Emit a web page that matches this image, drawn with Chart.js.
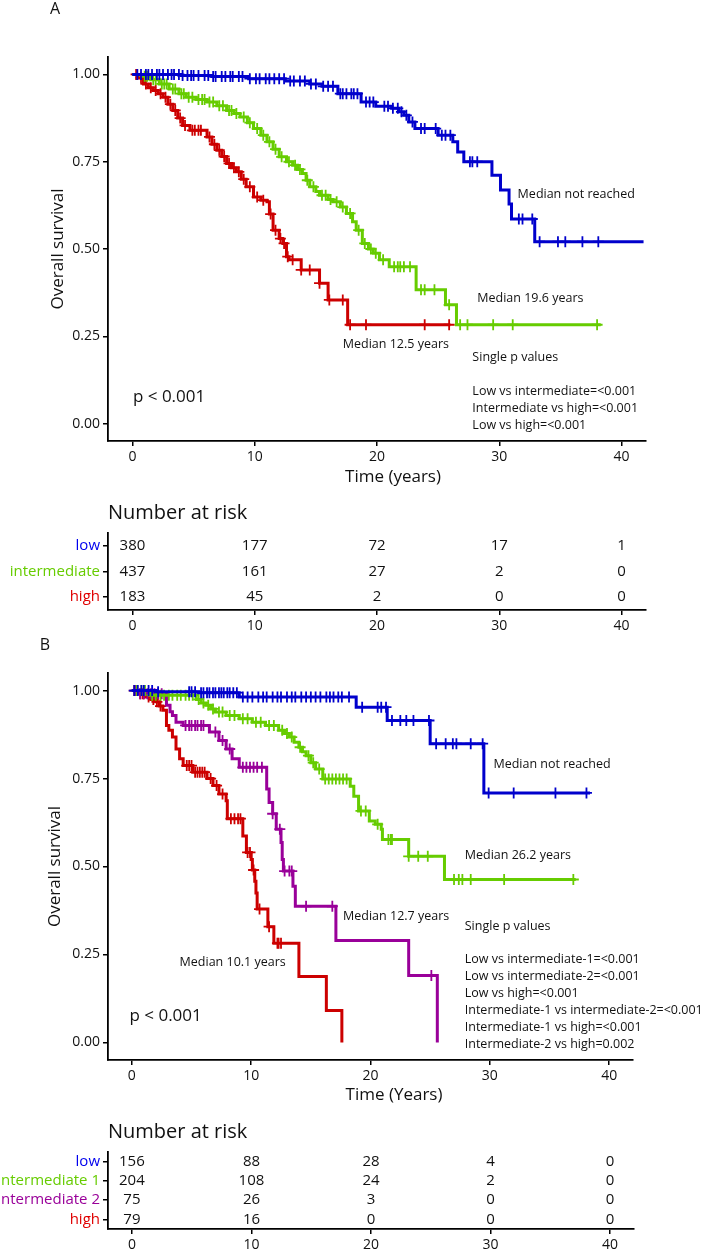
<!DOCTYPE html>
<html>
<head>
<meta charset="utf-8">
<script src="https://cdn.jsdelivr.net/npm/chart.js@4.4.1/dist/chart.umd.min.js"></script>
<style>
  html, body { margin: 0; padding: 0; background: #fff; }
  #wrap { position: relative; width: 708px; height: 1249px; overflow: hidden; }
  canvas { position: absolute; left: 0; }
</style>
</head>
<body>
<div id="wrap">
  <canvas id="kmA" width="708" height="495" style="top:0px"></canvas>
  <canvas id="riskA" width="708" height="140" style="top:495px"></canvas>
  <canvas id="kmB" width="708" height="495" style="top:615px"></canvas>
  <canvas id="riskB" width="708" height="139" style="top:1110px"></canvas>
</div>
<script>
const FONT = "'Open Sans', sans-serif";
const INK = '#111';

const xTicks = [0, 10, 20, 30, 40];
const yTicks = [0, 0.25, 0.5, 0.75, 1];
const yTickLabels = ['0.00', '0.25', '0.50', '0.75', '1.00'];

// ---- Panel A: step times (years) and survival after each step, plus censor times
const lowA_t = [0, 4.0, 6.5, 9.5, 12.5, 14.5, 15.5, 16.8, 18.7, 19.9, 21.2, 21.8, 22.2, 22.6, 23.1, 25.0, 26.2, 26.6, 27.1, 29.4, 30.1, 30.8, 31.0, 32.9, 41.8];
const lowA_s = [1, 0.997, 0.994, 0.988, 0.981, 0.973, 0.966, 0.945, 0.921, 0.909, 0.903, 0.893, 0.883, 0.864, 0.845, 0.826, 0.807, 0.778, 0.750, 0.711, 0.669, 0.629, 0.586, 0.521, 0.521];
const lowA_cens = [0.4, 0.7, 1.1, 1.3, 1.6, 2.0, 2.2, 2.5, 2.9, 3.2, 3.4, 3.8, 4.1, 4.5, 4.8, 5.0, 5.4, 5.9, 6.2, 6.6, 6.8, 7.3, 7.6, 8.0, 8.2, 8.7, 9.0, 9.6, 10.1, 10.4, 10.9, 11.2, 11.6, 12.0, 12.4, 12.9, 13.2, 13.7, 14.1, 14.6, 15.0, 15.6, 16.0, 16.4, 17.0, 17.2, 17.5, 17.9, 18.1, 18.4, 19.1, 19.4, 19.7, 20.6, 20.9, 21.3, 21.7, 22.0, 22.4, 22.9, 23.6, 23.9, 24.8, 25.3, 25.6, 26.0, 27.6, 27.8, 28.2, 31.6, 31.9, 32.7, 33.3, 34.8, 35.4, 36.8, 38.1];

const intA_t = [0, 0.8, 1.5, 2.2, 3.0, 3.8, 4.4, 5.2, 6.1, 6.9, 7.7, 8.3, 8.8, 9.4, 9.9, 10.5, 11.0, 11.5, 12.0, 12.6, 13.1, 13.5, 13.9, 14.2, 14.5, 15.0, 15.3, 16.0, 16.4, 17.0, 17.5, 18.0, 18.3, 18.8, 19.3, 19.7, 20.2, 21.0, 23.2, 25.6, 26.5, 38.3];
const intA_s = [1, 0.995, 0.985, 0.973, 0.958, 0.945, 0.935, 0.928, 0.921, 0.910, 0.897, 0.888, 0.878, 0.862, 0.845, 0.826, 0.807, 0.786, 0.764, 0.750, 0.740, 0.728, 0.716, 0.697, 0.678, 0.665, 0.654, 0.642, 0.635, 0.620, 0.602, 0.578, 0.554, 0.516, 0.500, 0.488, 0.469, 0.449, 0.383, 0.340, 0.283, 0.283];
const intA_cens = [1.0, 1.2, 1.7, 1.9, 2.4, 2.6, 2.8, 3.3, 3.5, 4.0, 4.2, 4.6, 4.9, 5.4, 5.7, 5.9, 6.3, 6.6, 7.1, 7.4, 7.9, 8.1, 8.5, 9.1, 9.6, 10.2, 10.7, 11.2, 11.7, 12.2, 12.8, 13.3, 13.7, 14.3, 14.8, 15.5, 15.8, 16.2, 16.7, 17.2, 17.8, 18.5, 19.0, 19.5, 19.9, 20.5, 21.4, 21.7, 21.9, 22.2, 22.7, 23.6, 23.9, 24.7, 25.9, 26.8, 27.4, 29.5, 31.1, 38.0];

const highA_t = [0, 0.5, 0.9, 1.3, 1.7, 2.1, 2.5, 2.9, 3.3, 3.7, 4.1, 4.7, 6.1, 6.5, 6.9, 7.3, 7.7, 8.1, 8.5, 8.9, 9.3, 9.9, 10.5, 11.0, 11.2, 11.5, 12.0, 12.3, 12.6, 12.8, 13.8, 15.3, 16.0, 17.6, 26.0];
const highA_s = [1, 0.990, 0.973, 0.962, 0.954, 0.945, 0.935, 0.915, 0.897, 0.875, 0.854, 0.840, 0.821, 0.800, 0.783, 0.765, 0.745, 0.733, 0.721, 0.700, 0.678, 0.649, 0.640, 0.635, 0.600, 0.554, 0.530, 0.516, 0.478, 0.469, 0.440, 0.402, 0.354, 0.283, 0.283];
const highA_cens = [0.3, 0.7, 1.1, 1.5, 1.9, 2.3, 2.7, 3.1, 3.5, 3.9, 4.3, 4.9, 5.1, 5.4, 5.6, 6.3, 6.7, 7.1, 7.5, 7.9, 8.3, 8.7, 9.1, 9.6, 10.2, 10.7, 11.3, 11.7, 12.1, 12.4, 12.7, 13.1, 13.8, 14.5, 15.3, 16.1, 17.2, 17.8, 19.1, 23.9, 25.9];

// ---- Panel B
const lowB_t = [0, 2.0, 5.6, 9.0, 18.8, 21.4, 25.0, 29.5, 38.4];
const lowB_s = [1, 0.997, 0.994, 0.982, 0.953, 0.915, 0.849, 0.709, 0.709];
const lowB_cens = [0.2, 0.5, 0.8, 1.0, 1.4, 1.7, 2.2, 4.8, 5.0, 5.3, 5.8, 6.0, 6.3, 6.5, 6.8, 7.0, 7.3, 7.5, 7.7, 8.0, 8.2, 8.5, 8.8, 9.3, 9.7, 10.1, 10.6, 11.0, 11.3, 11.8, 12.2, 12.5, 13.0, 13.4, 13.7, 14.2, 14.6, 15.0, 15.4, 15.8, 16.3, 16.6, 16.9, 17.3, 17.6, 18.2, 19.3, 20.6, 20.9, 21.3, 21.8, 22.5, 23.0, 23.6, 24.9, 25.5, 26.3, 26.9, 27.2, 28.4, 29.4, 29.9, 32.0, 35.5, 38.1];

const int1B_t = [0, 1.5, 5.4, 5.8, 6.2, 6.6, 7.0, 7.9, 9.0, 10.1, 11.2, 12.3, 12.8, 13.2, 13.6, 14.0, 14.3, 14.6, 15.0, 15.4, 16.0, 18.3, 18.6, 19.0, 19.9, 20.4, 20.9, 21.0, 23.2, 26.2, 37.2];
const int1B_s = [1, 0.987, 0.975, 0.965, 0.958, 0.948, 0.939, 0.929, 0.920, 0.910, 0.901, 0.887, 0.878, 0.868, 0.853, 0.839, 0.826, 0.815, 0.795, 0.777, 0.749, 0.728, 0.700, 0.658, 0.629, 0.620, 0.606, 0.577, 0.529, 0.463, 0.463];
const int1B_cens = [0.4, 0.8, 1.1, 1.7, 2.0, 2.4, 2.7, 3.1, 3.4, 3.8, 4.1, 4.5, 4.8, 5.1, 5.6, 6.0, 6.4, 6.8, 7.3, 7.6, 8.2, 8.6, 9.3, 9.7, 10.4, 10.8, 11.5, 11.9, 12.6, 13.0, 13.4, 14.1, 14.8, 15.2, 15.7, 16.2, 16.5, 16.8, 17.1, 17.4, 17.7, 18.0, 19.2, 19.6, 20.6, 21.5, 21.7, 21.8, 23.2, 24.0, 24.8, 27.0, 27.4, 27.7, 28.4, 31.2, 37.0];

const int2B_t = [0, 0.6, 2.9, 3.2, 3.4, 3.7, 4.3, 6.5, 7.3, 7.9, 8.4, 9.0, 11.3, 11.5, 11.8, 12.1, 12.5, 12.6, 12.7, 13.5, 13.7, 17.1, 23.2, 25.6];
const int2B_s = [1, 0.991, 0.958, 0.940, 0.929, 0.910, 0.901, 0.882, 0.858, 0.834, 0.806, 0.782, 0.720, 0.682, 0.650, 0.606, 0.568, 0.520, 0.487, 0.444, 0.387, 0.290, 0.190, 0];
const int2B_cens = [0.3, 0.7, 1.0, 1.3, 1.6, 1.9, 2.2, 2.5, 4.5, 4.8, 5.0, 5.3, 5.5, 5.8, 6.0, 7.0, 7.6, 8.2, 9.3, 9.6, 9.9, 10.2, 10.5, 10.9, 11.8, 12.4, 12.8, 13.2, 13.4, 14.6, 16.8, 25.1];

const highB_t = [0, 0.5, 1.2, 1.6, 2.0, 2.3, 2.6, 2.9, 3.1, 3.4, 3.7, 4.0, 4.3, 5.1, 6.3, 6.8, 7.3, 7.9, 8.0, 9.3, 9.6, 10.0, 10.1, 10.3, 10.4, 10.5, 11.4, 11.9, 14.0, 16.3, 17.6];
const highB_s = [1, 0.991, 0.982, 0.975, 0.968, 0.956, 0.944, 0.901, 0.887, 0.868, 0.834, 0.806, 0.787, 0.768, 0.750, 0.730, 0.706, 0.687, 0.636, 0.587, 0.540, 0.520, 0.490, 0.458, 0.425, 0.379, 0.329, 0.282, 0.187, 0.091, 0];
const highB_cens = [0.2, 0.4, 0.7, 0.9, 1.0, 1.4, 1.8, 2.1, 2.4, 4.6, 4.8, 5.0, 5.3, 5.5, 5.7, 5.9, 6.1, 6.6, 7.1, 7.6, 8.3, 8.6, 8.9, 9.1, 9.7, 9.9, 10.2, 10.7, 11.5, 12.2, 12.3, 12.5];

// ---- Number at risk tables
const riskTimes = [0, 10, 20, 30, 40];
const riskA_labels = ['low', 'intermediate', 'high'];
const riskA_low = [380, 177, 72, 17, 1];
const riskA_int = [437, 161, 27, 2, 0];
const riskA_high = [183, 45, 2, 0, 0];
const riskB_labels = ['low', 'intermediate 1', 'intermediate 2', 'high'];
const riskB_low = [156, 88, 28, 4, 0];
const riskB_int1 = [204, 108, 24, 2, 0];
const riskB_int2 = [75, 26, 3, 0, 0];
const riskB_high = [79, 16, 0, 0, 0];

const pValuesA = ['Low vs intermediate=<0.001', 'Intermediate vs high=<0.001', 'Low vs high=<0.001'];
const pValuesB = ['Low vs intermediate-1=<0.001', 'Low vs intermediate-2=<0.001', 'Low vs high=<0.001',
  'Intermediate-1 vs intermediate-2=<0.001', 'Intermediate-1 vs high=<0.001', 'Intermediate-2 vs high=0.002'];

const BLUE = '#0000cc', GREEN = '#66cc00', RED = '#cc0000', PURPLE = '#990099';

Chart.defaults.font.family = FONT;
Chart.defaults.color = INK;

// survival level at time t (step function)
function survAt(ts, ss, t) {
  let v = ss[0];
  for (let i = 0; i < ts.length; i++) {
    if (ts[i] <= t) v = ss[i];
  }
  return v;
}

function notesPlugin(notes) {
  return {
    id: 'notes',
    afterDraw(chart) {
      const ctx = chart.ctx;
      const xs = chart.scales.x, ys = chart.scales.y;
      ctx.save();
      ctx.textBaseline = 'middle';
      ctx.fillStyle = INK;
      notes.forEach(n => {
        ctx.font = (n.size || 12.5) + 'px ' + FONT;
        ctx.textAlign = n.align || 'left';
        const px = n.px !== undefined ? n.px : xs.getPixelForValue(n.t);
        const py = n.py !== undefined ? n.py : ys.getPixelForValue(n.s) + (n.dy || 0);
        ctx.fillText(n.text, px, py);
      });
      ctx.restore();
    }
  };
}

function axisX(h) {
  return {
    type: 'linear', min: -2, max: 42,
    afterBuildTicks: s => { s.ticks = xTicks.map(v => ({ value: v })); },
    afterFit: s => { s.height = h; },
    ticks: { font: { size: 14 }, color: INK, padding: 3, maxRotation: 0, autoSkip: false },
    grid: { drawOnChartArea: false, tickLength: 5, color: '#000', lineWidth: 1.5 },
    border: { color: '#000', width: 1.8 }
  };
}

function kmChart(id, curves, o) {
  const datasets = [];
  curves.forEach(c => {
    datasets.push({
      data: c.t.map((t, i) => ({ x: t, y: c.s[i] })),
      borderColor: c.color, borderWidth: 3, stepped: true,
      pointRadius: 0, fill: false
    });
    datasets.push({
      data: c.cens.map(t => ({ x: t, y: survAt(c.t, c.s, t) })),
      showLine: false, pointStyle: 'cross', pointRadius: 5.5,
      borderColor: c.color, pointBorderWidth: 1.8
    });
  });
  return new Chart(document.getElementById(id), {
    type: 'line',
    data: { datasets },
    options: {
      responsive: false, animation: false, events: [],
      layout: { padding: o.padding },
      plugins: { legend: { display: false }, tooltip: { enabled: false } },
      scales: {
        x: axisX(o.xh),
        y: {
          type: 'linear', min: -0.05, max: 1.05,
          afterBuildTicks: s => { s.ticks = yTicks.map(v => ({ value: v })); },
          afterFit: s => { s.width = o.yw; },
          ticks: { font: { size: 14 }, color: INK, padding: 3, callback: v => yTickLabels[yTicks.indexOf(v)] },
          grid: { drawOnChartArea: false, tickLength: 5, color: '#000', lineWidth: 1.5 },
          border: { color: '#000', width: 1.8 },
          title: { display: true, text: 'Overall survival', font: { size: 17 }, color: INK, padding: { top: o.titlePad, bottom: 0 } }
        }
      }
    },
    plugins: [notesPlugin(o.notes)]
  });
}

function riskChart(id, labels, rows, colors, o) {
  const datasets = rows.map((n, r) => ({
    data: riskTimes.map((t, i) => ({ x: t, y: labels[r], n: n[i] })),
    pointRadius: 0, showLine: false
  }));
  return new Chart(document.getElementById(id), {
    type: 'line',
    data: { datasets },
    options: {
      responsive: false, animation: false, events: [],
      layout: { padding: { left: 0, right: o.right, top: 0, bottom: 0 } },
      plugins: {
        legend: { display: false }, tooltip: { enabled: false },
        title: {
          display: true, text: 'Number at risk', align: 'start', fullSize: false,
          font: { size: 20, weight: 'normal' }, color: INK, padding: o.titlePad
        }
      },
      scales: {
        x: axisX(o.xh),
        y: {
          type: 'category', labels: labels, offset: true,
          afterFit: s => { s.width = 108; },
          ticks: { font: { size: 15 }, padding: 3, autoSkip: false, color: c => colors[c.index] },
          grid: { drawOnChartArea: false, tickLength: 5, color: '#000', lineWidth: 1.5, offset: false },
          border: { color: '#000', width: 1.8 }
        }
      }
    },
    plugins: [{
      id: 'riskNumbers',
      afterDatasetsDraw(chart) {
        const ctx = chart.ctx;
        ctx.save();
        ctx.font = '15px ' + FONT;
        ctx.fillStyle = INK;
        ctx.textAlign = 'center';
        ctx.textBaseline = 'middle';
        chart.data.datasets.forEach((ds, d) => {
          chart.getDatasetMeta(d).data.forEach((pt, i) => {
            ctx.fillText(String(ds.data[i].n), pt.x, pt.y);
          });
        });
        ctx.restore();
      }
    }]
  });
}

// ---- Panel A
const notesA = [
  { text: 'A', px: 55, py: 9, size: 16, align: 'center' },
  { text: 'Time (years)', px: 393, py: 477, size: 17, align: 'center' },
  { text: 'Median not reached', t: 31.5, s: 0.657 },
  { text: 'Median 19.6 years', t: 28.2, s: 0.357 },
  { text: 'Median 12.5 years', t: 17.2, s: 0.226 },
  { text: 'Single p values', t: 27.8, s: 0.189 },
  { text: 'p < 0.001', t: 0.04, s: 0.077, size: 17 }
].concat(pValuesA.map((p, i) => ({ text: p, t: 27.8, s: 0.091, dy: 17 * i })));

kmChart('kmA', [
  { t: lowA_t, s: lowA_s, cens: lowA_cens, color: BLUE },
  { t: intA_t, s: intA_s, cens: intA_cens, color: GREEN },
  { t: highA_t, s: highA_s, cens: highA_cens, color: RED }
], { padding: { left: 40, right: 62, top: 57, bottom: 24 }, xh: 30, yw: 68, titlePad: 8, notes: notesA });

riskChart('riskA', riskA_labels, [riskA_low, riskA_int, riskA_high],
  ['#0000ee', '#66cc00', '#e00000'],
  { right: 62, xh: 25, titlePad: { top: 6, bottom: 8 } });

// ---- Panel B
const notesB = [
  { text: 'B', px: 45, py: 30, size: 16, align: 'center' },
  { text: 'Time (Years)', px: 394, py: 480, size: 17, align: 'center' },
  { text: 'Median not reached', t: 30.3, s: 0.791 },
  { text: 'Median 26.2 years', t: 27.9, s: 0.531 },
  { text: 'Median 12.7 years', t: 17.7, s: 0.357 },
  { text: 'Median 10.1 years', t: 4.0, s: 0.226 },
  { text: 'Single p values', t: 27.9, s: 0.331 },
  { text: 'p < 0.001', t: -0.2, s: 0.074, size: 17 }
].concat(pValuesB.map((p, i) => ({ text: p, t: 27.9, s: 0.237, dy: 17 * i })));

kmChart('kmB', [
  { t: lowB_t, s: lowB_s, cens: lowB_cens, color: BLUE },
  { t: int1B_t, s: int1B_s, cens: int1B_cens, color: GREEN },
  { t: int2B_t, s: int2B_s, cens: int2B_cens, color: PURPLE },
  { t: highB_t, s: highB_s, cens: highB_cens, color: RED }
], { padding: { left: 40, right: 75, top: 58, bottom: 20 }, xh: 30, yw: 68, titlePad: 5, notes: notesB });

riskChart('riskB', riskB_labels, [riskB_low, riskB_int1, riskB_int2, riskB_high],
  ['#0000ee', '#66cc00', '#990099', '#e00000'],
  { right: 74, xh: 20, titlePad: { top: 10, bottom: 8 } });
</script>
</body>
</html>
